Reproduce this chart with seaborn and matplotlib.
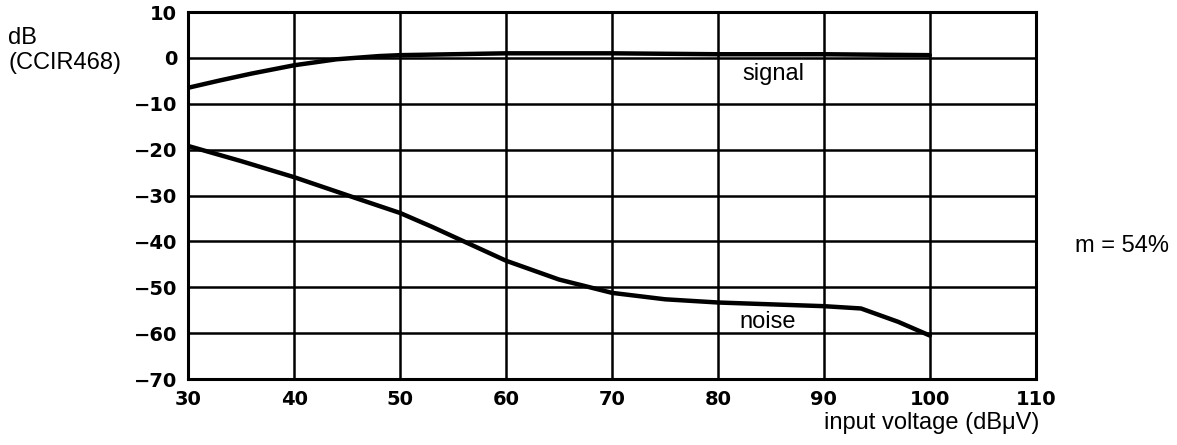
import pandas as pd
import seaborn as sns
import matplotlib.pyplot as plt

# --------------------------
# Values
# --------------------------
signal_x = [30, 33, 36, 40, 44, 48, 50, 55, 60, 70, 80, 90, 100]
signal_db = [-6.5, -4.9, -3.4, -1.6, -0.3, 0.4, 0.6, 0.8, 1.0, 1.0, 0.8, 0.8, 0.6]

noise_x = [30, 35, 40, 46, 50, 53, 56.5, 60, 65, 70, 75, 80, 85, 90, 93.5, 97, 100]
noise_db = [-19.2, -22.5, -26.0, -30.7, -33.8, -36.8, -40.5, -44.2, -48.3, -51.2,
            -52.6, -53.3, -53.7, -54.1, -54.6, -57.5, -60.5]

x_ticks = [30, 40, 50, 60, 70, 80, 90, 100, 110]
y_ticks = [10, 0, -10, -20, -30, -40, -50, -60, -70]

df = pd.concat([
    pd.DataFrame({"x": signal_x, "dB": signal_db, "curve": "signal"}),
    pd.DataFrame({"x": noise_x, "dB": noise_db, "curve": "noise"}),
])

# --------------------------
# Plot
# --------------------------
sns.set_style("white")
plt.rcParams["font.family"] = ["Liberation Sans", "DejaVu Sans"]
plt.rcParams["text.color"] = "black"
plt.rcParams["xtick.color"] = "black"
plt.rcParams["ytick.color"] = "black"

fig = plt.figure(figsize=(11.77, 4.45), dpi=100)
ax = fig.add_axes([0.160, 0.148, 0.720, 0.825])

sns.lineplot(data=df, x="x", y="dB", units="curve", estimator=None, sort=False,
             color="black", linewidth=3.2, ax=ax, legend=False)

ax.set_xlim(30, 110)
ax.set_ylim(-70, 10)
ax.set_xticks(x_ticks)
ax.set_yticks(y_ticks)
ax.set_xticklabels([str(t) for t in x_ticks], fontweight="bold", fontsize=14,
                   family="DejaVu Sans")
ax.set_yticklabels([("\u2212" + str(-t)) if t < 0 else str(t) for t in y_ticks],
                   fontweight="bold", fontsize=14, family="DejaVu Sans")
ax.tick_params(length=0, pad=8, colors="black")
ax.grid(True, color="black", linewidth=1.8)
for s in ax.spines.values():
    s.set_color("black")
    s.set_linewidth(2.2)
ax.set_xlabel("")
ax.set_ylabel("")

ax.text(85.2, -3.6, "signal", ha="center", va="center", fontsize=17)
ax.text(84.7, -57.6, "noise", ha="center", va="center", fontsize=17)

fig.text(0.007, 0.886, "dB\n(CCIR468)", ha="left", va="center", fontsize=17,
         linespacing=1.2)
fig.text(0.913, 0.448, "m = 54%", ha="left", va="center", fontsize=17)
fig.text(0.883, 0.049, "input voltage (dB\u03bcV)", ha="right", va="center",
         fontsize=17)

plt.savefig("out.png", dpi=100)
